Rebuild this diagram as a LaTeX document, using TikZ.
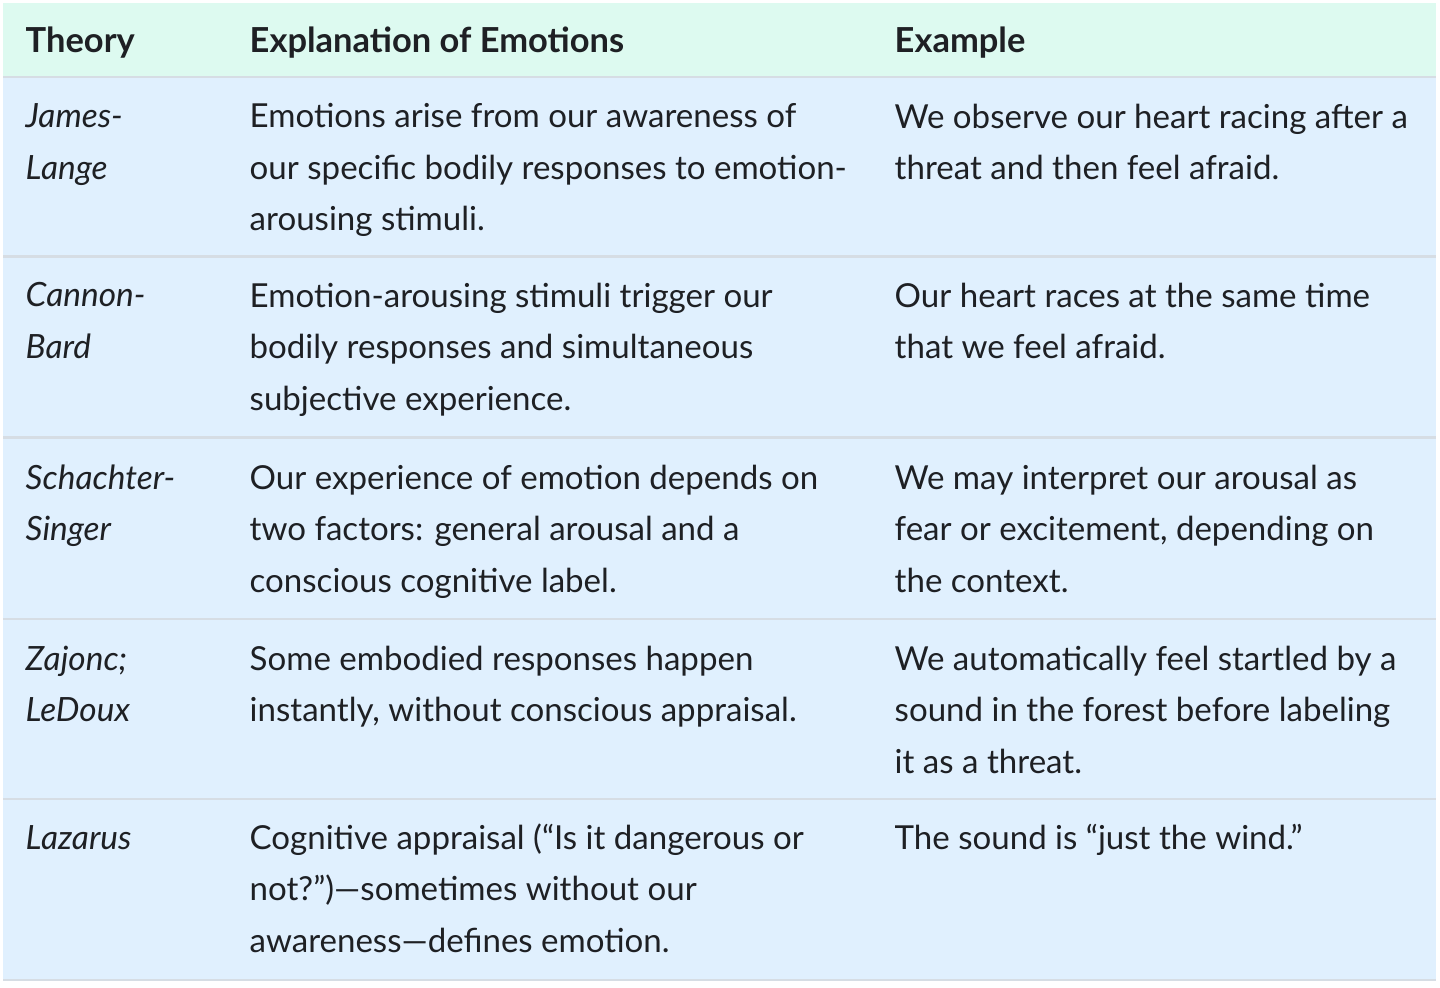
\documentclass[tikz,border=0pt]{standalone}
\usepackage{fontspec}
\setmainfont{Lato}
\usepackage{xcolor}
\definecolor{headmint}{RGB}{221,250,240}
\definecolor{rowblue}{RGB}{224,240,254}
\definecolor{rulegray}{RGB}{214,221,228}
\definecolor{inkdark}{RGB}{30,32,36}

\tikzset{
  cell/.style={anchor=north west, inner sep=0pt, align=left, text=inkdark,
    font=\fontsize{9.4}{14.65}\selectfont, execute at begin node=\strut},
  headcell/.style={cell, font=\fontsize{9.8}{14.65}\selectfont\bfseries},
  namecell/.style={cell, font=\fontsize{9.5}{14.65}\selectfont\itshape},
  rowrule/.style={draw=rulegray, line width=0.8pt}
}

\begin{document}
\begin{tikzpicture}[x=0.01cm,y=-0.01cm]
        \useasboundingbox (0,0) rectangle (1440,987);
        \fill[headmint] (3,3) rectangle (1436,77);
        \fill[rowblue]  (3,77) rectangle (1436,980);
        \node[headcell] (hTheory) at (25,16) {Theory};
        \node[headcell] (hExpl) at (249,16) {Explanation of Emotions};
        \node[headcell] (hEx) at (894,16) {Example};
        \draw[rowrule] (3,77) -- (1436,77);
        %
        \node[namecell] (thJL) at (25,103) {James-\\Lange};
        \node[cell] (exJL) at (249,103) {Emotions arise from our awareness of\\our specific bodily responses to emotion-\\arousing stimuli.};
        \node[cell] (egJL) at (894,103) {We observe our heart racing after a\\threat and then feel afraid.};
        \draw[rowrule] (3,256.5) -- (1436,256.5);
        %
        \node[namecell] (thCB) at (25,282) {Cannon-\\Bard};
        \node[cell] (exCB) at (249,282) {Emotion-arousing stimuli trigger our\\bodily responses and simultaneous\\subjective experience.};
        \node[cell] (egCB) at (894,282) {Our heart races at the same time\\that we feel afraid.};
        \draw[rowrule] (3,437.5) -- (1436,437.5);
        %
        \node[namecell] (thSS) at (25,464) {Schachter-\\Singer};
        \node[cell] (exSS) at (249,464) {Our experience of emotion depends on\\two factors: general arousal and a\\conscious cognitive label.};
        \node[cell] (egSS) at (894,464) {We may interpret our arousal as\\fear or excitement, depending on\\the context.};
        \draw[rowrule] (3,619) -- (1436,619);
        %
        \node[namecell] (thZL) at (25,645) {Zajonc;\\LeDoux};
        \node[cell] (exZL) at (249,645) {Some embodied responses happen\\instantly, without conscious appraisal.};
        \node[cell] (egZL) at (894,645) {We automatically feel startled by a\\sound in the forest before labeling\\it as a threat.};
        \draw[rowrule] (3,799) -- (1436,799);
        %
        \node[namecell] (thLz) at (25,813) {Lazarus};
        \node[cell] (exLz) at (249,823) {Cognitive appraisal (“Is it dangerous or\\not?”)—sometimes without our\\awareness—defines emotion.};
        \node[cell] (egLz) at (894,813) {The sound is “just the wind.”};
        \draw[rowrule] (3,980) -- (1436,980);
    \end{tikzpicture}
\end{document}
